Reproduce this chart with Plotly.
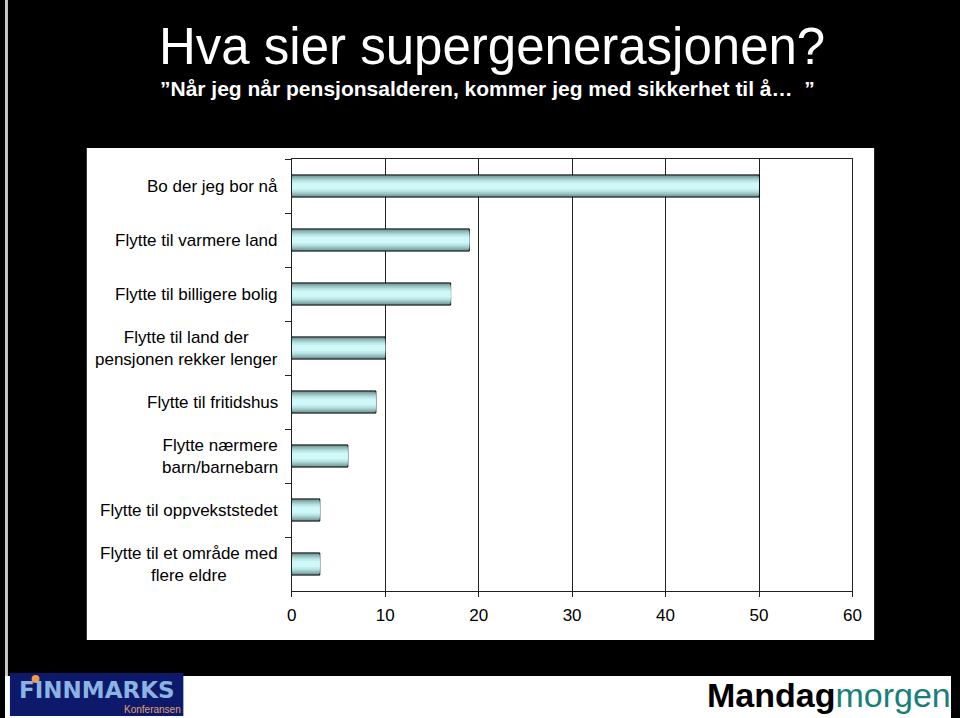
import plotly.graph_objects as go

categories = [
    "Bo der jeg bor nå",
    "Flytte til varmere land",
    "Flytte til billigere bolig",
    "Flytte til land der<br>pensjonen rekker lenger",
    "Flytte til fritidshus",
    "Flytte nærmere<br>barn/barnebarn",
    "Flytte til oppvekststedet",
    "Flytte til et område med<br>flere eldre",
]
values = [50, 19, 17, 10, 9, 6, 3, 3]
x_ticks = [0, 10, 20, 30, 40, 50, 60]

W, H = 960, 718
def px(x): return x / W
def py(y): return 1 - y / H

fig = go.Figure()

# layered bars to imitate the gradient fill
layers = [
    (0.41, "#6f9494", 1),
    (0.35, "#8db4b4", 0),
    (0.28, "#a8d2d2", 0),
    (0.20, "#bfeaea", 0),
    (0.12, "#cff9f9", 0),
]
for w, c, lw in layers:
    fig.add_trace(go.Bar(
        x=values, y=categories, orientation="h", width=w,
        marker=dict(color=c, line=dict(color="black", width=lw)),
        showlegend=False, hoverinfo="skip",
    ))

fig.update_layout(
    width=W, height=H, barmode="overlay",
    paper_bgcolor="black", plot_bgcolor="white",
    margin=dict(l=0, r=0, t=0, b=0),
    font=dict(family="Liberation Sans, Arial", color="black", size=17),
    xaxis=dict(
        domain=[px(291), px(860)], range=[0, 60], tickvals=x_ticks,
        showgrid=True, gridcolor="#222222", gridwidth=1,
        showline=True, linecolor="#222222", linewidth=1, mirror=True,
        ticks="outside", ticklen=5, tickcolor="#222222",
        tickfont=dict(size=17, color="black"), zeroline=False,
        ticklabelstandoff=4, anchor="y",
    ),
    yaxis=dict(
        domain=[py(591), py(159)], autorange="reversed",
        categoryorder="array", categoryarray=categories,
        showline=True, linecolor="#222222", linewidth=1, mirror=True,
        ticks="outside", ticklen=6, tickcolor="#222222", tickson="boundaries",
        showgrid=False, showticklabels=False,
    ),
)

shapes = [
    # white chart panel
    dict(type="rect", xref="paper", yref="paper", x0=px(83), x1=px(882),
         y0=py(640), y1=py(148), fillcolor="white", line=dict(width=0), layer="below"),
    # white footer strip
    dict(type="rect", xref="paper", yref="paper", x0=0, x1=1,
         y0=0, y1=py(676), fillcolor="white", line=dict(width=0), layer="below"),
    # light frame at left edge
    dict(type="rect", xref="paper", yref="paper", x0=0, x1=px(3),
         y0=py(676), y1=1, fillcolor="#c8c8c8", line=dict(width=0), layer="below"),
    # Finnmarks logo box
    dict(type="rect", xref="paper", yref="paper", x0=px(5), x1=px(181),
         y0=py(716), y1=py(673), fillcolor="#0d1a6b", line=dict(width=0)),
]

annotations = []
for cat in categories:
    annotations.append(dict(
        text=cat, x=px(279), xref="paper", y=cat, yref="y",
        xanchor="right", yanchor="middle", align="center", showarrow=False,
        font=dict(size=17, color="black", family="Liberation Sans, Arial"),
    ))

annotations += [
    dict(text="Hva sier supergenerasjonen?", x=px(494), y=py(46), xref="paper", yref="paper",
         xanchor="center", yanchor="middle", showarrow=False,
         font=dict(size=51, color="white", family="Liberation Sans, Arial")),
    dict(text="<b>\u201dNår jeg når pensjonsalderen, kommer jeg med sikkerhet til å\u2026  \u201d</b>",
         x=px(490), y=py(88), xref="paper", yref="paper",
         xanchor="center", yanchor="middle", showarrow=False,
         font=dict(size=21, color="white", family="Liberation Sans, Arial")),
    dict(text="<b>FINNMARKS</b>", x=px(93), y=py(690), xref="paper", yref="paper",
         xanchor="center", yanchor="middle", showarrow=False, borderpad=0,
         font=dict(size=23, color="#8db3e2", family="DejaVu Sans, Arial")),
    dict(text="Konferansen", x=px(150), y=py(709), xref="paper", yref="paper",
         xanchor="center", yanchor="middle", showarrow=False, borderpad=0,
         font=dict(size=10, color="#e0a070", family="Liberation Sans, Arial")),
    dict(text="<b>Mandag</b><span style='color:#17807a'>morgen</span>",
         x=px(962), y=py(695), xref="paper", yref="paper",
         xanchor="right", yanchor="middle", showarrow=False,
         font=dict(size=34, color="black", family="Liberation Sans, Arial")),
]

fig.update_layout(shapes=shapes, annotations=annotations)
# orange dot over the "I" in the logo
fig.add_shape(type="circle", xref="paper", yref="paper", x0=px(27), x1=px(35),
              y0=py(683), y1=py(675), fillcolor="#f39a4a", line=dict(width=0))
fig.write_html("out.html")
